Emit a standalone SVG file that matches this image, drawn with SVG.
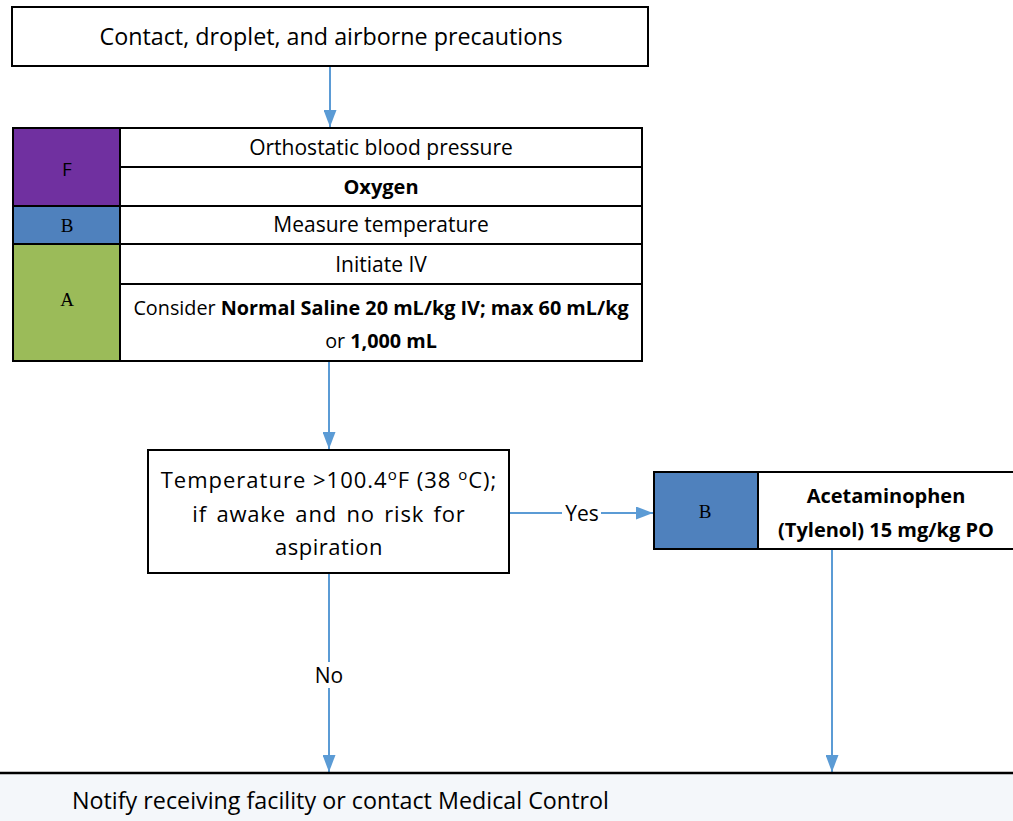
<svg xmlns="http://www.w3.org/2000/svg" width="1013" height="821" viewBox="0 0 1013 821">
<style>
.box{fill:#fff;stroke:#000;stroke-width:2}
.t{font-family:"Open Sans","Noto Sans","Liberation Sans",sans-serif;fill:#000}
.m{text-anchor:middle}
.s{font-family:"Liberation Serif",serif;fill:#000;text-anchor:middle;font-size:19px}
.c{fill:none;stroke:#5B9BD5;stroke-width:2}
</style>
<defs>
<marker id="ah" viewBox="0 0 10 10" refX="10" refY="5" markerWidth="17" markerHeight="13" markerUnits="userSpaceOnUse" orient="auto" preserveAspectRatio="none">
<path d="M0,0 L10,5 L0,10 z" fill="#5B9BD5"/>
</marker>
</defs>
<rect width="1013" height="821" fill="#fff"/>
<g id="connectors">
<line class="c" x1="330" y1="67" x2="330" y2="127" marker-end="url(#ah)"/>
<line class="c" x1="329" y1="362" x2="329" y2="449" marker-end="url(#ah)"/>
<line class="c" x1="509" y1="513" x2="562" y2="513"/>
<line class="c" x1="601" y1="513" x2="653" y2="513" marker-end="url(#ah)"/>
<text class="t m" x="582" y="521" font-size="21">Yes</text>
<line class="c" x1="329" y1="574" x2="329" y2="662"/>
<line class="c" x1="329" y1="688" x2="329" y2="772" marker-end="url(#ah)"/>
<text class="t m" x="329" y="683" font-size="21">No</text>
<line class="c" x1="832" y1="550" x2="832" y2="772" marker-end="url(#ah)"/>
</g>
<g id="n-precautions">
<rect class="box" x="12" y="7" width="636" height="59"/>
<text class="t m" x="331" y="45" font-size="23.3">Contact, droplet, and airborne precautions</text>
</g>
<g id="n-table">
<rect x="13" y="128" width="107" height="78" fill="#7030A0" stroke="#000" stroke-width="2"/>
<rect x="13" y="206" width="107" height="38" fill="#4F81BD" stroke="#000" stroke-width="2"/>
<rect x="13" y="244" width="107" height="117" fill="#9BBB59" stroke="#000" stroke-width="2"/>
<rect class="box" x="120" y="128" width="522" height="39"/>
<rect class="box" x="120" y="167" width="522" height="39"/>
<rect class="box" x="120" y="206" width="522" height="38"/>
<rect class="box" x="120" y="244" width="522" height="40"/>
<rect class="box" x="120" y="284" width="522" height="77"/>
<text class="t m" x="67" y="176" font-size="19">F</text>
<text class="s" x="67" y="232">B</text>
<text class="s" x="67" y="306">A</text>
<text class="t m" x="381" y="155" font-size="21">Orthostatic blood pressure</text>
<text class="t m" x="381" y="194" font-size="20" font-weight="bold">Oxygen</text>
<text class="t m" x="381" y="232" font-size="21">Measure temperature</text>
<text class="t m" x="381" y="272" font-size="21">Initiate IV</text>
<text class="t m" x="381" y="315" font-size="19.8">Consider <tspan font-weight="bold">Normal Saline 20 mL/kg IV; max 60 mL/kg</tspan></text>
<text class="t m" x="381" y="348" font-size="19.8">or <tspan font-weight="bold">1,000 mL</tspan></text>
</g>
<g id="n-temperature">
<rect class="box" x="148" y="450" width="361" height="123"/>
<text class="t m" x="329" y="488" font-size="22" letter-spacing="1">Temperature &gt;100.4<tspan font-size="15" dy="-8">o</tspan><tspan dy="8">F (38 </tspan><tspan font-size="15" dy="-8">o</tspan><tspan dy="8">C);</tspan></text>
<text class="t m" x="329" y="522" font-size="22" letter-spacing="0.8" word-spacing="3">if awake and no risk for</text>
<text class="t m" x="329" y="555" font-size="22" letter-spacing="0.5">aspiration</text>
</g>
<g id="n-acetaminophen">
<rect x="654" y="472" width="104" height="77" fill="#4F81BD" stroke="#000" stroke-width="2"/>
<rect class="box" x="758" y="472" width="256" height="77"/>
<text class="s" x="705" y="518">B</text>
<text class="t m" x="886" y="503" font-size="20" font-weight="bold">Acetaminophen</text>
<text class="t m" x="886" y="537" font-size="20" font-weight="bold">(Tylenol) 15 mg/kg PO</text>
</g>
<g id="n-notify">
<rect x="0" y="774" width="1013" height="47" fill="#F4F7FA"/>
<line x1="0" y1="773" x2="1013" y2="773" stroke="#000" stroke-width="2.5"/>
<text class="t" x="72" y="809" font-size="23.3">Notify receiving facility or contact Medical Control</text>
</g>
</svg>
